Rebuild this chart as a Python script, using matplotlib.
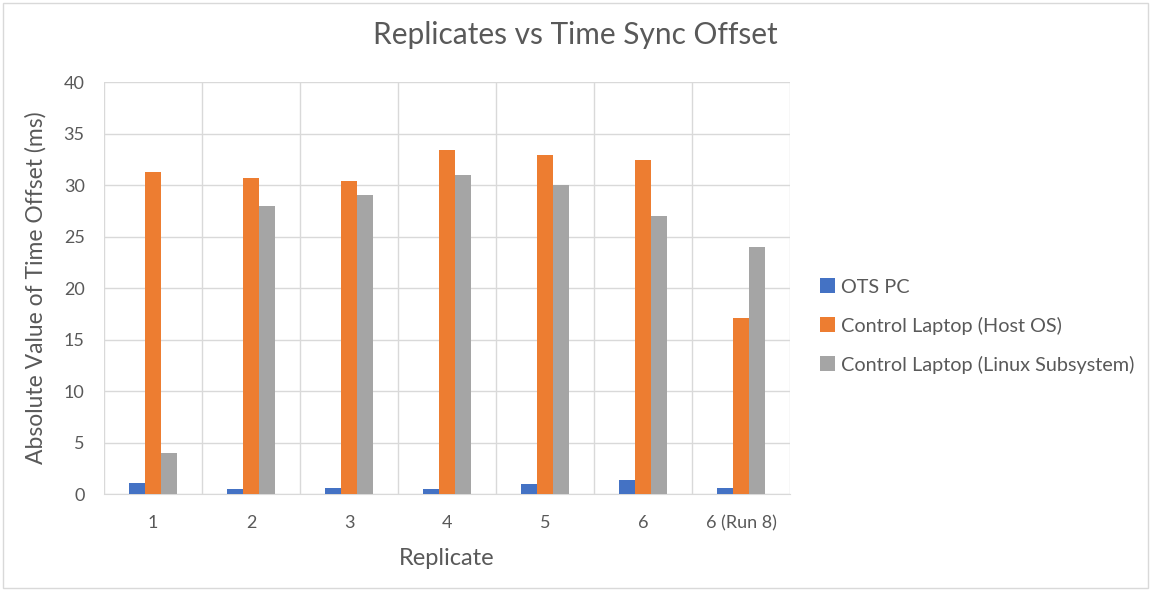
import matplotlib
matplotlib.use("Agg")
import matplotlib.pyplot as plt
import numpy as np
from matplotlib.patches import Rectangle

plt.rcParams["font.family"] = ["Lato", "DejaVu Sans"]

replicates = ["1", "2", "3", "4", "5", "6", "6 (Run 8)"]
ots_pc = [1.05, 0.5, 0.55, 0.45, 1.0, 1.35, 0.55]
host_os = [31.3, 30.7, 30.45, 33.4, 32.9, 32.4, 17.05]
linux_sub = [4.0, 28.0, 29.0, 31.0, 30.0, 27.0, 24.0]

series = [
    ("OTS PC", ots_pc, "#4472C4"),
    ("Control Laptop (Host OS)", host_os, "#ED7D31"),
    ("Control Laptop (Linux Subsystem)", linux_sub, "#A5A5A5"),
]

txt = "#595959"
fig = plt.figure(figsize=(11.51, 5.90), dpi=100)
ax = fig.add_axes([0.0904, 0.1627, 0.596, 0.698])

x = np.arange(len(replicates))
w = 0.163
for i, (name, vals, col) in enumerate(series):
    ax.bar(x + (i - 1) * w, vals, w, color=col, label=name, zorder=3)

ax.set_xlim(-0.5, len(replicates) - 0.5)
ax.set_ylim(0, 40)
ax.set_yticks(range(0, 41, 5))
ax.set_xticks(x)
ax.set_xticklabels(replicates)
ax.set_xticks(np.arange(-0.5, len(replicates), 1), minor=True)
ax.grid(True, which="major", axis="y", color="#D9D9D9", lw=1, zorder=0)
ax.grid(True, which="minor", axis="x", color="#D9D9D9", lw=1, zorder=0)
ax.tick_params(axis="both", which="major", length=0, labelsize=13, colors=txt)
ax.tick_params(axis="x", which="major", pad=15)
ax.tick_params(axis="y", which="major", pad=14)
ax.tick_params(axis="x", which="minor", length=0)
for s in ["top", "right", "left"]:
    ax.spines[s].set_visible(False)
ax.spines["bottom"].set_color("#D9D9D9")

ax.set_xlabel("Replicate", fontsize=17, color=txt, labelpad=12)
ax.set_ylabel("Absolute Value of Time Offset (ms)", fontsize=16.5, color=txt, labelpad=12)
fig.suptitle("Replicates vs Time Sync Offset", x=0.5, y=0.965, fontsize=21.5, color=txt)

ax.legend(loc="center left", bbox_to_anchor=(1.044, 0.408), frameon=False,
          fontsize=14.3, labelcolor=txt, handlelength=0.75, handleheight=0.75,
          handletextpad=0.3, labelspacing=1.05, borderaxespad=0, borderpad=0)

fig.patches.append(Rectangle((0.003, 0.003), 0.994, 0.992, transform=fig.transFigure,
                             fill=False, edgecolor="#D9D9D9", lw=1))

fig.savefig("out.png", dpi=100)
